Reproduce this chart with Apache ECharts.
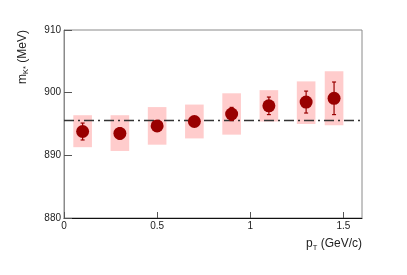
<!DOCTYPE html>
<html><head><meta charset="utf-8">
<script src="https://cdn.jsdelivr.net/npm/echarts@6/dist/echarts.min.js"></script>
<style>html,body{margin:0;padding:0;background:#fff}#c{width:407px;height:275px}</style>
</head><body><div id="c"></div>
<script>
var pt = [0.1, 0.3, 0.5, 0.7, 0.9, 1.1, 1.3, 1.45];
var mass = [893.8, 893.5, 894.7, 895.4, 896.6, 897.9, 898.5, 899.1];
var statErr = [1.35, 0.9, 0.8, 0.7, 1.05, 1.4, 1.75, 2.6];
var sysLow = [891.3, 890.7, 891.7, 892.7, 893.3, 895.4, 895.0, 894.8];
var sysHigh = [896.4, 896.4, 897.7, 898.1, 899.9, 900.4, 901.8, 903.4];
var pdgMass = 895.55;
var xTickLabels = {0: '0', 0.5: '0.5', 1: '1', 1.5: '1.5'};
var yTickLabels = [880, 890, 900, 910];

var boxHalfWidth = 0.05;
var chart = echarts.init(document.getElementById('c'));
var font = 'Liberation Sans, Arial, sans-serif';

var sysData = pt.map(function (x, i) { return [x, sysLow[i], sysHigh[i]]; });
var errData = pt.map(function (x, i) { return [x, mass[i] - statErr[i], mass[i] + statErr[i]]; });
var ptsData = pt.map(function (x, i) { return [x, mass[i]]; });

chart.setOption({
  animation: false,
  grid: { left: 64, right: 45, top: 30, bottom: 57, show: true, borderColor: '#8a8a8a', borderWidth: 1, backgroundColor: 'transparent' },
  xAxis: {
    type: 'value', min: 0, max: 1.6, interval: 0.5,
    axisLine: { show: true, lineStyle: { color: '#111', width: 1 } },
    axisTick: { show: true, inside: true, length: 6, lineStyle: { color: '#555' } },
    axisLabel: { margin: 3, fontSize: 10, color: '#222', fontFamily: font, showMaxLabel: false,
      formatter: function (v) { return xTickLabels[v] !== undefined ? xTickLabels[v] : ''; } },
    splitLine: { show: false }
  },
  yAxis: {
    type: 'value', min: 880, max: 910, interval: 10,
    axisLine: { show: true, lineStyle: { color: '#8a8a8a', width: 1 } },
    axisTick: { show: true, inside: true, length: 8, lineStyle: { color: '#555' } },
    axisLabel: { margin: 3, fontSize: 10, color: '#222', fontFamily: font,
      formatter: function (v) { return yTickLabels.indexOf(v) >= 0 ? String(v) : ''; } },
    splitLine: { show: false }
  },
  graphic: [
    { type: 'text', rotation: Math.PI / 2, originX: 0, originY: 0,
      position: [15, 84],
      style: { text: '{a|m}{b|K*}{a| (MeV)}', rich: {
        a: { fontSize: 12, fontFamily: font, fill: '#222', color: '#222' },
        b: { fontSize: 7.5, fontFamily: font, fill: '#222', color: '#222', padding: [7, 0, 0, 0] } } } },
    { type: 'text', right: 45, top: 238,
      style: { text: '{a|p}{b|T}{a| (GeV/c)}', rich: {
        a: { fontSize: 12, fontFamily: font, fill: '#222', color: '#222' },
        b: { fontSize: 7.5, fontFamily: font, fill: '#222', color: '#222', padding: [8, 0, 0, 0] } } } }
  ],
  series: [
    {
      type: 'custom', data: sysData, z: 1,
      renderItem: function (params, api) {
        var p1 = api.coord([api.value(0) - boxHalfWidth, api.value(2)]);
        var p2 = api.coord([api.value(0) + boxHalfWidth, api.value(1)]);
        return { type: 'rect', shape: { x: p1[0], y: p1[1], width: p2[0] - p1[0], height: p2[1] - p1[1] },
          style: { fill: '#ffcccc' } };
      }
    },
    {
      type: 'line', data: [[0, pdgMass], [1.6, pdgMass]], symbol: 'none', z: 2,
      lineStyle: { color: '#333', width: 1.5, type: [10, 4, 2, 4] }
    },
    {
      type: 'custom', data: errData, z: 3,
      renderItem: function (params, api) {
        var lo = api.coord([api.value(0), api.value(1)]);
        var hi = api.coord([api.value(0), api.value(2)]);
        var c = 2;
        return { type: 'group', children: [
          { type: 'line', shape: { x1: lo[0], y1: lo[1], x2: hi[0], y2: hi[1] }, style: { stroke: '#990000', lineWidth: 1.2 } },
          { type: 'line', shape: { x1: lo[0] - c, y1: lo[1], x2: lo[0] + c, y2: lo[1] }, style: { stroke: '#990000', lineWidth: 1.2 } },
          { type: 'line', shape: { x1: hi[0] - c, y1: hi[1], x2: hi[0] + c, y2: hi[1] }, style: { stroke: '#990000', lineWidth: 1.2 } }
        ] };
      }
    },
    {
      type: 'scatter', data: ptsData, symbol: 'circle', symbolSize: 13, z: 4,
      itemStyle: { color: '#990000', opacity: 1 }
    }
  ]
});
</script></body></html>
